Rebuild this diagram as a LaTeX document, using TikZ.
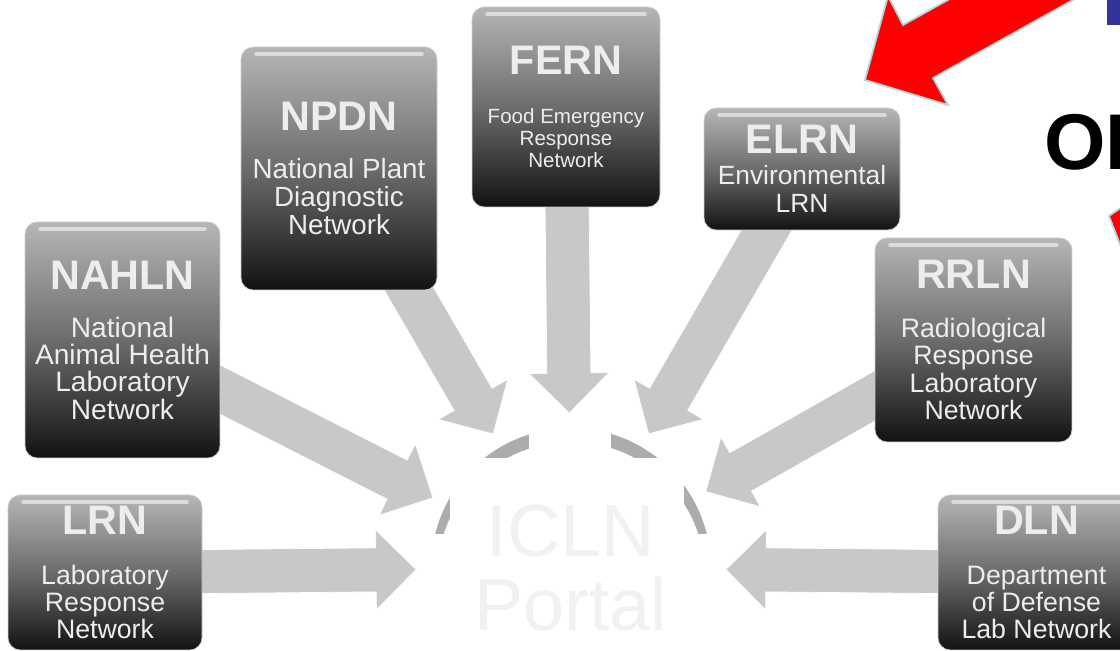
\documentclass[tikz,border=0pt]{standalone}
\usepackage{fontspec}
\setmainfont{Liberation Sans}
\usetikzlibrary{calc}
\definecolor{boxtop}{RGB}{182,182,182}
\definecolor{boxmid}{RGB}{108,108,108}
\definecolor{boxbot}{RGB}{18,18,18}
\definecolor{boxedge}{RGB}{205,205,205}
\definecolor{arrowgray}{RGB}{200,200,200}
\definecolor{ringgray}{RGB}{172,172,172}
\definecolor{portaltext}{RGB}{241,241,241}
\definecolor{redrim}{RGB}{170,215,225}
\definecolor{titleblue}{RGB}{51,51,153}
\newcommand{\pxl}{0.02cm}
\newcommand{\nettitle}[1]{{\fontsize{23.5}{27}\selectfont\bfseries #1}}
\newcommand{\netarrow}[2]{%
  \path ($(#2.center)!3.1cm!(#1.center)$) coordinate (tip)
        ($(tip)!0.8cm!(#1.center)$) coordinate (head);
  \filldraw[net-arrow] ($(#1.center)!0.44cm!90:(tip)$) -- ($(head)!0.44cm!90:(tip)$)
    -- ($(head)!0.8cm!90:(tip)$) -- (tip) -- ($(head)!0.8cm!-90:(tip)$)
    -- ($(head)!0.44cm!-90:(tip)$) -- ($(#1.center)!0.44cm!-90:(tip)$) -- cycle;}
\pgfdeclarelayer{bg}
\pgfsetlayers{bg,main}
\tikzset{
    net-box/.style = {rectangle, rounded corners=7pt, draw=boxedge, thin, top color=boxtop, bottom color=boxbot, middle color=boxmid, text=white!93!black, align=center, inner sep=2pt, font=\fontsize{15.2}{15.5}\selectfont,
        path picture={\draw[white, opacity=0.55, line width=2pt, line cap=round] ([xshift=0.3cm, yshift=-0.14cm]path picture bounding box.north west) -- ([xshift=-0.3cm, yshift=-0.14cm]path picture bounding box.north east);}},
    net-arrow/.style = {fill=arrowgray, draw=white, thin},
    portal-text/.style = {text=portaltext, align=center, inner sep=0pt, font=\fontsize{42}{42}\selectfont},
    red-arrow/.style = {fill=red, draw=redrim, line width=1pt},
}
\begin{document}
\begin{tikzpicture}[x=0.02cm, y=-0.02cm]
\useasboundingbox (0,0) rectangle (1120,651);
\clip (0,0) rectangle (1120,651);

\node[portal-text] (portal) at (571,568) {ICLN\\Portal};

\node[net-box, minimum width=194*\pxl, minimum height=155*\pxl] (lrn) at (105,572.5)
    {\nettitle{LRN}\\[12.8pt] Laboratory\\Response\\Network};
\node[net-box, minimum width=195*\pxl, minimum height=236*\pxl, font=\fontsize{16}{15.5}\selectfont] (nahln) at (122.5,340)
    {\nettitle{NAHLN}\\[12pt] National\\Animal Health\\Laboratory\\Network};
\node[net-box, minimum width=196*\pxl, minimum height=243*\pxl, font=\fontsize{15.8}{15.9}\selectfont] (npdn) at (339,168.5)
    {\nettitle{NPDN}\\[11pt] National Plant\\Diagnostic\\Network};
\node[net-box, minimum width=188*\pxl, minimum height=200*\pxl, font=\fontsize{11.7}{12.5}\selectfont] (fern) at (566,107)
    {\nettitle{FERN}\\[15pt] Food Emergency\\Response\\Network};
\node[net-box, minimum width=196*\pxl, minimum height=122*\pxl, font=\fontsize{15}{15.9}\selectfont] (elrn) at (802,169)
    {\nettitle{ELRN}\\[2pt] Environmental\\LRN};
\node[net-box, minimum width=197*\pxl, minimum height=204*\pxl] (rrln) at (973.5,340)
    {\nettitle{RRLN}\\[12.3pt] Radiological\\Response\\Laboratory\\Network};
\node[net-box, minimum width=197*\pxl, minimum height=155*\pxl] (dln) at (1036.5,572.5)
    {\nettitle{DLN}\\[12.8pt] Department\\of Defense\\Lab Network};

\begin{pgfonlayer}{bg}
\fill[ringgray] (portal.center) circle (2.8cm);
\fill[white] ($(portal.center)+(0,8)$) circle (2.68cm);
\fill[white] (529,415) rectangle (611,651);
\fill[white] (450,458) rectangle (684,651);
\fill[white] (425,534) rectangle (712,651);
\netarrow{lrn}{portal}
\netarrow{nahln}{portal}
\netarrow{npdn}{portal}
\netarrow{fern}{portal}
\netarrow{elrn}{portal}
\netarrow{rrln}{portal}
\netarrow{dln}{portal}
\end{pgfonlayer}

\filldraw[red-arrow] (865,80) -- (948,105) -- (933,78) -- (1195,-68) -- (1165,-121) -- (903,25) -- (888,-4) -- cycle;
\filldraw[red-arrow] (1109,216) -- (1128,203) -- (1128,265) -- cycle;
\fill[titleblue] (1107,-5) rectangle (1125,25);
\node[anchor=base west, inner sep=0pt, font=\fontsize{45}{50}\selectfont\bfseries] (of) at (1044,170) {OF};
\end{tikzpicture}
\end{document}
